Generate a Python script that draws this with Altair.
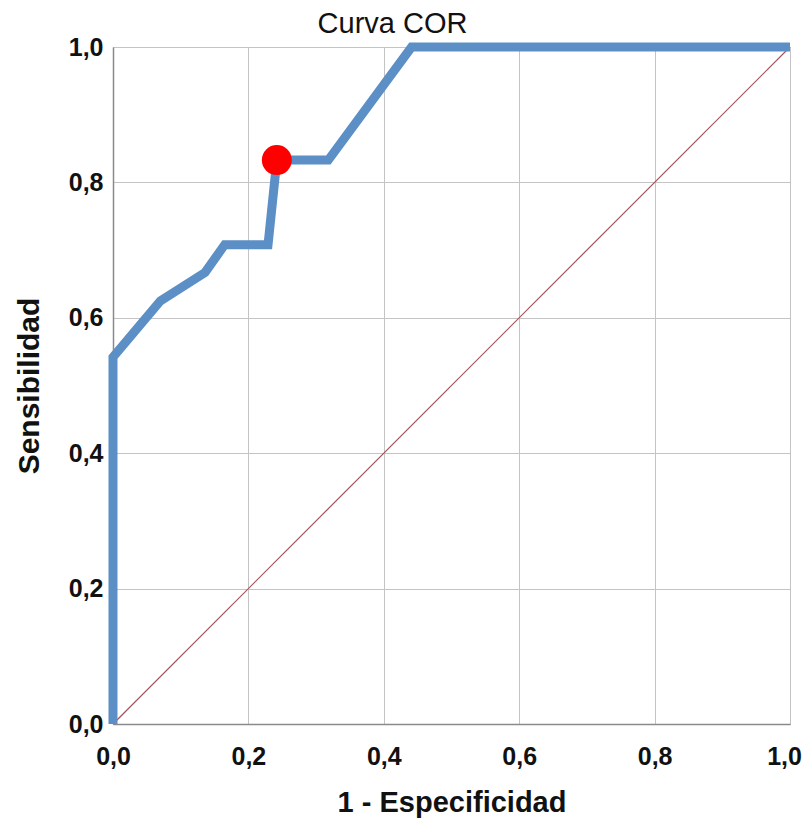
import altair as alt
import pandas as pd

# ROC curve points (1 - specificity, sensitivity)
fpr = [0.0, 0.0, 0.070, 0.136, 0.165, 0.229, 0.242, 0.318, 0.441, 1.0]
tpr = [0.0, 0.542, 0.625, 0.667, 0.708, 0.708, 0.833, 0.833, 1.0, 1.0]

# reference diagonal
diag_x = [0.0, 1.0]
diag_y = [0.0, 1.0]

# highlighted cut-off point
cut_x = [0.242]
cut_y = [0.833]

tick_values = [0.0, 0.2, 0.4, 0.6, 0.8, 1.0]

curve = pd.DataFrame({"x": fpr, "y": tpr, "i": list(range(len(fpr)))})
diag = pd.DataFrame({"x": diag_x, "y": diag_y, "i": [0, 1]})
cut = pd.DataFrame({"x": cut_x, "y": cut_y})

label_expr = "replace(format(datum.value, '.1f'), '.', ',')"
FONT = "Liberation Sans"

xscale = alt.Scale(domain=[0, 1], nice=False, zero=False)
yscale = alt.Scale(domain=[0, 1], nice=False, zero=False)

xaxis = alt.Axis(values=tick_values, labelExpr=label_expr, title="1 - Especificidad",
                 grid=True, gridColor="#c4c4c4", gridWidth=1, ticks=False,
                 domainColor="#8a8a8a", domainWidth=1.5,
                 labelFont=FONT, labelFontSize=25, labelFontWeight="bold", labelColor="#111",
                 labelPadding=20, labelFlush=False,
                 labelOffset={"condition": {"test": "datum.value >= 1", "value": -6}, "value": 0},
                 titleFont=FONT, titleFontSize=29, titleFontWeight="bold", titleColor="#111",
                 titlePadding=19)
yaxis = alt.Axis(values=tick_values, labelExpr=label_expr, title="Sensibilidad",
                 grid=True, gridColor="#c4c4c4", gridWidth=1, ticks=False,
                 domainColor="#8a8a8a", domainWidth=1.5,
                 labelFont=FONT, labelFontSize=25, labelFontWeight="bold", labelColor="#111",
                 labelPadding=10, labelFlush=False,
                 titleFont=FONT, titleFontSize=30, titleFontWeight="bold", titleColor="#111",
                 titlePadding=24)

diag_layer = alt.Chart(diag).mark_line(color="#a3505c", strokeWidth=1.2).encode(
    x=alt.X("x:Q", scale=xscale, axis=xaxis),
    y=alt.Y("y:Q", scale=yscale, axis=yaxis),
    order="i:Q",
)

curve_layer = alt.Chart(curve).mark_line(color="#5b8fc6", strokeWidth=9, strokeJoin="miter").encode(
    x=alt.X("x:Q", scale=xscale),
    y=alt.Y("y:Q", scale=yscale),
    order="i:Q",
)

cut_layer = alt.Chart(cut).mark_circle(color="#ff0000", opacity=1, size=900).encode(
    x=alt.X("x:Q", scale=xscale),
    y=alt.Y("y:Q", scale=yscale),
)

chart = alt.layer(diag_layer, curve_layer, cut_layer).properties(
    width=677,
    height=677,
    autosize=alt.AutoSizeParams(type="none"),
    padding={"left": 105, "top": 39, "right": 13, "bottom": 95},
    title=alt.TitleParams("Curva COR", font=FONT, fontSize=29, fontWeight="normal",
                          color="#111", anchor="middle", dx=-59, offset=-10),
).configure_view(stroke="#9a9a9a", strokeWidth=1)

chart.save("out.html", embed_options={"renderer": "svg", "actions": False})
